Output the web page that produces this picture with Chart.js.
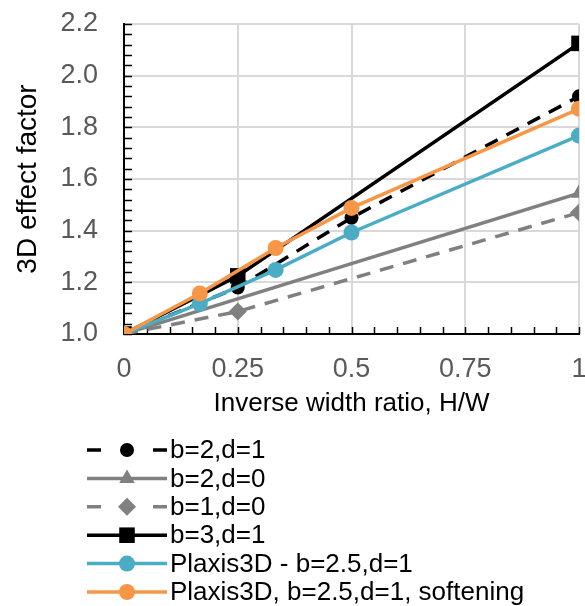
<!DOCTYPE html>
<html lang="en">
<head>
<meta charset="UTF-8">
<title>3D effect factor vs inverse width ratio</title>
<script src="https://cdn.jsdelivr.net/npm/chart.js"></script>
<style>
  html, body { margin: 0; padding: 0; background: #fff; }
</style>
</head>
<body>
<canvas id="chart" width="585" height="606"></canvas>

<script>
// ---- data ----
const seriesNames = [
  'b=2,d=1',
  'b=2,d=0',
  'b=1,d=0',
  'b=3,d=1',
  'Plaxis3D - b=2.5,d=1',
  'Plaxis3D, b=2.5,d=1, softening'
];

const xB2D1 = [0, 0.25, 0.5, 1];
const yB2D1 = [1.0, 1.18, 1.45, 1.92];

const xB2D0 = [0, 1];
const yB2D0 = [1.0, 1.545];

const xB1D0 = [0, 0.25, 1];
const yB1D0 = [1.0, 1.087, 1.47];

const xB3D1 = [0, 0.25, 1];
const yB3D1 = [1.0, 1.225, 2.125];

const xPlaxis = [0, 1 / 6, 1 / 3, 0.5, 1];
const yPlaxis = [1.0, 1.118, 1.248, 1.393, 1.768];
const ySoftening = [1.0, 1.157, 1.333, 1.488, 1.872];

const xTickLabels = ['0', '0.25', '0.5', '0.75', '1'];
const yTickLabels = ['1.0', '1.2', '1.4', '1.6', '1.8', '2.0', '2.2'];

const FONT = '"Liberation Sans", Arial, sans-serif';
const X_MINOR = 0.05;
const Y_MINOR = 0.04;

function pts(xs, ys) {
  return xs.map((x, i) => ({ x: x, y: ys[i] }));
}

const styles = [
  { color: '#000000', dash: [14, 10], point: 'circle', r: 7 },
  { color: '#808080', dash: [], point: 'triangle', r: 9 },
  { color: '#808080', dash: [14, 10], point: 'rectRot', r: 9 },
  { color: '#000000', dash: [], point: 'rect', r: 11 },
  { color: '#4bacc6', dash: [], point: 'circle', r: 8 },
  { color: '#f79646', dash: [], point: 'circle', r: 8 }
];

const seriesData = [
  pts(xB2D1, yB2D1),
  pts(xB2D0, yB2D0),
  pts(xB1D0, yB1D0),
  pts(xB3D1, yB3D1),
  pts(xPlaxis, yPlaxis),
  pts(xPlaxis, ySoftening)
];

const datasets = seriesNames.map((name, i) => ({
  label: name,
  data: seriesData[i],
  borderColor: styles[i].color,
  backgroundColor: styles[i].color,
  borderWidth: 3.5,
  borderDash: styles[i].dash,
  pointStyle: styles[i].point,
  pointRadius: styles[i].r,
  pointBorderWidth: 0,
  tension: 0,
  order: seriesNames.length - i
}));

// no automatic padding from the tick labels, the plot box is fixed
function noPad(s) {
  s.paddingTop = 0;
  s.paddingBottom = 0;
  s.paddingLeft = 0;
  s.paddingRight = 0;
}

// inward tick marks on both axes, like the spreadsheet original
const innerTicks = {
  id: 'innerTicks',
  beforeDatasetsDraw(chart) {
    const { ctx, chartArea, scales: { x, y } } = chart;
    ctx.save();
    ctx.strokeStyle = '#000';
    ctx.lineWidth = 1.5;
    ctx.beginPath();
    const nx = Math.round((x.max - x.min) / X_MINOR);
    for (let k = 0; k <= nx; k++) {
      const px = Math.round(x.getPixelForValue(x.min + k * X_MINOR)) + 0.5;
      ctx.moveTo(px, chartArea.bottom);
      ctx.lineTo(px, chartArea.bottom - 7);
    }
    const ny = Math.round((y.max - y.min) / Y_MINOR);
    for (let k = 0; k <= ny; k++) {
      const py = Math.round(y.getPixelForValue(y.min + k * Y_MINOR)) + 0.5;
      ctx.moveTo(chartArea.left, py);
      ctx.lineTo(chartArea.left + 8, py);
    }
    ctx.stroke();
    ctx.restore();
  }
};

// legend: one entry per row under the x axis title
const rowLegend = {
  id: 'rowLegend',
  afterDraw(chart) {
    const ctx = chart.ctx;
    chart.data.datasets.forEach((ds, i) => {
      const y = 450 + i * 28.4;
      ctx.save();
      ctx.strokeStyle = ds.borderColor;
      ctx.fillStyle = ds.backgroundColor;
      ctx.lineWidth = ds.borderWidth;
      ctx.setLineDash(ds.borderDash.length ? [14, 52] : []);
      ctx.beginPath();
      ctx.moveTo(87, y);
      ctx.lineTo(167, y);
      ctx.stroke();
      ctx.setLineDash([]);
      Chart.helpers.drawPoint(ctx, {
        pointStyle: ds.pointStyle, radius: ds.pointRadius, rotation: 0, borderWidth: 0
      }, 127, y);
      ctx.fillStyle = '#000';
      ctx.font = '26px ' + FONT;
      ctx.textBaseline = 'middle';
      ctx.textAlign = 'left';
      ctx.fillText(ds.label, 170, y + 1);
      ctx.restore();
    });
  }
};

new Chart(document.getElementById('chart'), {
  type: 'line',
  data: { datasets: datasets },
  plugins: [innerTicks, rowLegend],
  options: {
    responsive: false,
    animation: false,
    layout: {
      autoPadding: false,
      padding: { left: 0, right: 6, top: 24, bottom: 186 }
    },
    plugins: {
      legend: { display: false },
      tooltip: { enabled: false }
    },
    scales: {
      x: {
        type: 'linear',
        min: 0,
        max: 1,
        afterFit: (s) => { s.height = 86; noPad(s); },
        grid: { color: '#d9d9d9', lineWidth: 2, drawTicks: false },
        border: { color: '#000', width: 2 },
        ticks: {
          stepSize: 0.25,
          padding: 19,
          maxRotation: 0,
          color: '#595959',
          font: { family: FONT, size: 27 },
          callback: (v, i) => xTickLabels[i]
        },
        title: {
          display: true,
          text: 'Inverse width ratio, H/W',
          color: '#000',
          font: { family: FONT, size: 26 },
          padding: { top: 0, bottom: 1 }
        }
      },
      y: {
        type: 'linear',
        min: 1,
        max: 2.2,
        afterFit: (s) => { s.width = 124; noPad(s); },
        grid: { color: '#d9d9d9', lineWidth: 2, drawTicks: false },
        border: { color: '#000', width: 2 },
        ticks: {
          stepSize: 0.2,
          padding: 26,
          color: '#595959',
          font: { family: FONT, size: 27 },
          callback: (v, i) => yTickLabels[i]
        },
        title: {
          display: true,
          text: '3D effect factor',
          color: '#000',
          font: { family: FONT, size: 28 },
          padding: { top: 11, bottom: 0 }
        }
      }
    }
  }
});
</script>
</body>
</html>
